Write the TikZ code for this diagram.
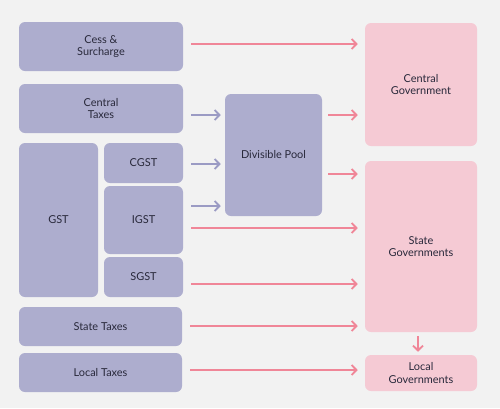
\documentclass[tikz,border=0pt]{standalone}
\usepackage{fontspec}
\setmainfont{Lato}
\usetikzlibrary{arrows.meta}
\definecolor{bg}{RGB}{242,242,242}
\definecolor{bluebox}{RGB}{173,173,206}
\definecolor{pinkbox}{RGB}{245,202,212}
\definecolor{pinkline}{RGB}{240,134,152}
\definecolor{grayline}{RGB}{155,155,196}
\definecolor{txt}{RGB}{40,40,58}
\tikzset{
  box/.style={rounded corners=4.5pt, inner sep=0pt, align=center, text=txt,
    font=\fontsize{8.2}{9.4}\selectfont},
  bbox/.style={box, fill=bluebox},
  pbox/.style={box, fill=pinkbox},
  arr/.style={line width=1.5pt, -{Straight Barb[length=3.6pt,width=7.5pt,line width=1.4pt]}},
  parr/.style={arr, draw=pinkline},
  garr/.style={arr, draw=grayline},
}
\newcommand{\bx}[7]{\node[#1, minimum width=#4*0.75pt, minimum height=#5*0.75pt] (#2) at (#3) {#6};}
\begin{document}
\begin{tikzpicture}[x=0.75pt,y=-0.75pt]
\fill[bg] (0,0) rectangle (500,408);
\useasboundingbox (0,0) rectangle (500,408);
% left column
\node[bbox, minimum width=123pt, minimum height=36.75pt] (cess) at (101,46.5) {Cess \&\\Surcharge};
\node[bbox, minimum width=123pt, minimum height=36.75pt] (ctax) at (101,108.5) {Central\\Taxes};
\node[bbox, minimum width=59.25pt, minimum height=115.5pt] (gst) at (58.5,220) {GST};
\node[bbox, minimum width=59.25pt, minimum height=30pt] (cgst) at (143.5,163) {CGST};
\node[bbox, minimum width=59.25pt, minimum height=51pt] (igst) at (143.5,220) {IGST};
\node[bbox, minimum width=59.25pt, minimum height=30pt] (sgst) at (143.5,277) {SGST};
\node[bbox, minimum width=122.25pt, minimum height=29.25pt] (stax) at (100.5,326.5) {State Taxes};
\node[bbox, minimum width=122.25pt, minimum height=29.25pt] (ltax) at (100.5,372.5) {Local Taxes};
% middle
\node[bbox, minimum width=72.75pt, minimum height=91.5pt] (pool) at (273.5,155) {Divisible Pool};
% right
\node[pbox, minimum width=84pt, minimum height=92.25pt] (cgov) at (421,84.5) {Central\\Government};
\node[pbox, minimum width=84pt, minimum height=128.25pt] (sgov) at (421,246.5) {State\\Governments};
\node[pbox, minimum width=84pt, minimum height=27pt] (lgov) at (421,373) {Local\\Governments};
% arrows
\draw[parr, shorten <=6pt, shorten >=5.25pt] (cess.east |- 0,44) -- (cgov.west |- 0,44);
\draw[garr, shorten <=6pt, shorten >=3pt] (ctax.east |- 0,115) -- (pool.west |- 0,115);
\draw[garr, shorten <=6pt, shorten >=3pt] (cgst.east |- 0,164) -- (pool.west |- 0,164);
\draw[garr, shorten <=6pt, shorten >=3pt] (igst.east |- 0,206) -- (pool.west |- 0,206);
\draw[parr, shorten <=4.5pt, shorten >=5.25pt] (pool.east |- 0,115) -- (cgov.west |- 0,115);
\draw[parr, shorten <=4.5pt, shorten >=5.25pt] (pool.east |- 0,174) -- (sgov.west |- 0,174);
\draw[parr, shorten <=6pt, shorten >=5.25pt] (igst.east |- 0,228) -- (sgov.west |- 0,228);
\draw[parr, shorten <=6pt, shorten >=5.25pt] (sgst.east |- 0,284) -- (sgov.west |- 0,284);
\draw[parr, shorten <=6pt, shorten >=5.25pt] (stax.east |- 0,326) -- (sgov.west |- 0,326);
\draw[parr, shorten <=6pt, shorten >=5.25pt] (ltax.east |- 0,370) -- (lgov.west |- 0,370);
\draw[parr, shorten <=3pt, shorten >=2.25pt] (sgov.south -| 418,0) -- (lgov.north -| 418,0);
\end{tikzpicture}
\end{document}
